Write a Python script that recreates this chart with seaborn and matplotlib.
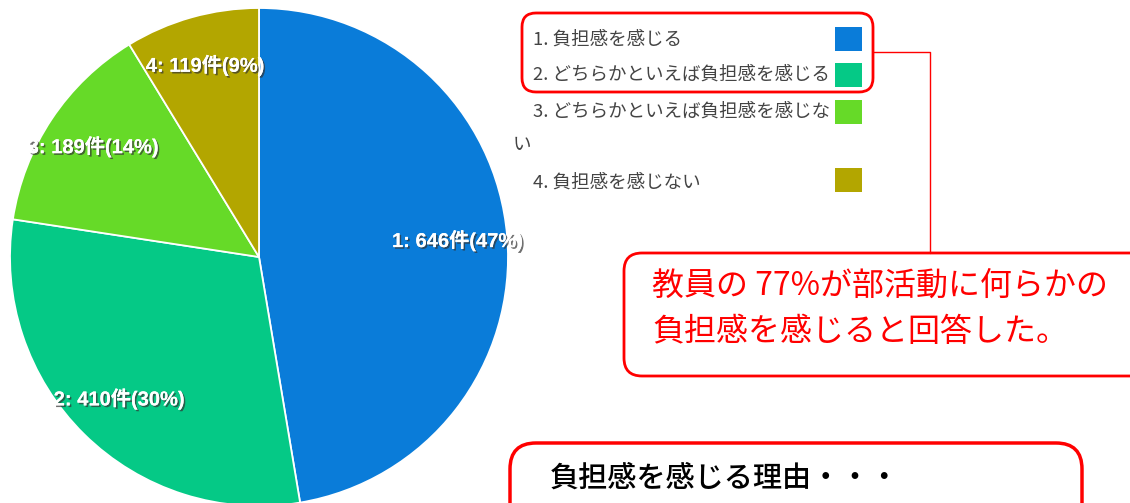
import matplotlib
matplotlib.use("Agg")
import matplotlib.pyplot as plt
import matplotlib.patheffects as pe
from matplotlib.patches import FancyBboxPatch, Rectangle
import seaborn as sns

# アンケート結果: 部活動の負担感
categories = ["1. 負担感を感じる",
              "2. どちらかといえば負担感を感じる",
              "3. どちらかといえば負担感を感じない",
              "4. 負担感を感じない"]
counts = [646, 410, 189, 119]
slice_colors = ["#0a7cd9", "#05c986", "#66da28", "#b3a600"]

callout_lines = ["教員の 77%が部活動に何らかの", "負担感を感じると回答した。"]
reason_title = "負担感を感じる理由・・・"

sns.set_theme(style="white")
plt.rcParams['font.family'] = ['Noto Sans CJK JP', 'DejaVu Sans']
palette = sns.color_palette(slice_colors)
total = sum(counts)

fig = plt.figure(figsize=(11.3, 5.03), dpi=100)

# 円グラフ (中心 259,257 / 半径 249 px)
ax_pie = fig.add_axes([10 / 1130, -3 / 503, 498 / 1130, 498 / 503])


def fmt(pct):
    n = int(round(pct * total / 100))
    i = counts.index(n) + 1
    return f"{i}: {n}件({pct:.0f}%)"


wedges, texts, autotexts = ax_pie.pie(
    counts, colors=palette, startangle=90, counterclock=False,
    wedgeprops=dict(edgecolor="white", linewidth=1.3),
    autopct=fmt, pctdistance=0.8,
    textprops=dict(color="white", fontsize=14.5, fontweight="bold",
                   family=['Liberation Sans', 'Noto Sans CJK JP']))
for t in autotexts:
    t.set_path_effects([pe.withSimplePatchShadow(offset=(1.2, -1.2), shadow_rgbFace="#333333", alpha=0.7),
                        pe.Normal()])
ax_pie.set_xlim(-1, 1)
ax_pie.set_ylim(-1, 1)
ax_pie.set_aspect("equal")
ax_pie.axis("off")

# 注釈用オーバーレイ (ピクセル座標)
ax = fig.add_axes([0, 0, 1, 1], zorder=5)
ax.set_xlim(0, 1130)
ax.set_ylim(503, 0)
ax.axis("off")
ax.patch.set_visible(False)

red = "#ff0000"

# 凡例
legend_y = [40, 75, 112, 183]
box_top = [27, 63, 100, 168]
for k, (lab, c) in enumerate(zip(categories, palette)):
    text = lab
    if k == 2:
        text = lab[:-1]
        ax.text(513, 145, lab[-1], fontsize=13.3, color="#444444", va="center", ha="left")
    ax.text(533, legend_y[k], text, fontsize=13.3, color="#444444", va="center", ha="left")
    ax.add_patch(Rectangle((835, box_top[k]), 27, 24, facecolor=c, edgecolor="none"))

ax.add_patch(FancyBboxPatch((522, 13), 351, 79, boxstyle="round,pad=0,rounding_size=14",
                            facecolor="none", edgecolor=red, linewidth=2))
ax.plot([873, 930, 930], [52, 52, 253], color=red, linewidth=1)

# 吹き出し 1
ax.add_patch(FancyBboxPatch((624, 253), 560, 123, boxstyle="round,pad=0,rounding_size=18",
                            facecolor="white", edgecolor=red, linewidth=2))
ax.text(652, 286, callout_lines[0], fontsize=23, color=red, va="center", ha="left")
ax.text(652, 332, callout_lines[1], fontsize=23, color=red, va="center", ha="left")

# 吹き出し 2
ax.add_patch(FancyBboxPatch((510, 443), 572, 100, boxstyle="round,pad=0,rounding_size=26",
                            facecolor="white", edgecolor=red, linewidth=2.5))
ax.text(550, 478, reason_title, fontsize=21, color="black", va="center", ha="left",
        fontweight="medium")

fig.savefig("out.png", dpi=100)
